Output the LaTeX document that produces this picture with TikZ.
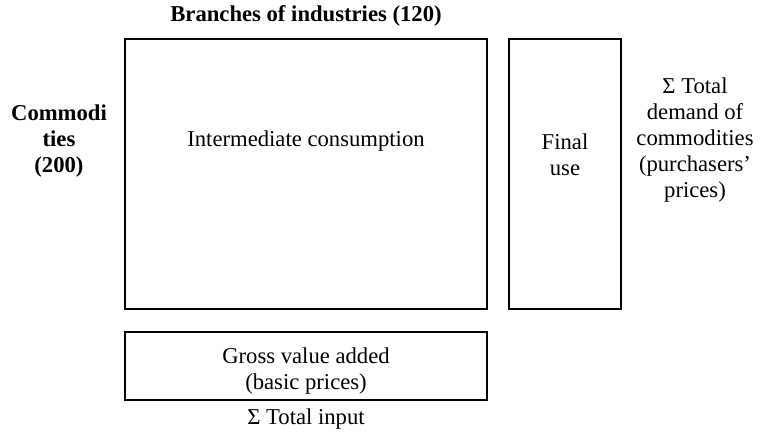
\documentclass[tikz,border=0pt]{standalone}
\usepackage{fontspec}
\setmainfont{Liberation Serif}
\usepackage{tikz}
\usetikzlibrary{positioning}
\tikzset{%
	block/.style = {draw, rectangle, line width=1.3pt, inner sep=0pt},
	label/.style = {align=center, inner sep=0pt, font=\fontsize{17}{19.5}\selectfont},
	title/.style = {label, font=\fontsize{17}{19.5}\selectfont\bfseries},
}

\begin{document}
\begin{tikzpicture}[x=0.75pt,y=-0.75pt]
	\useasboundingbox (0,0) rectangle (760,439);
	% boxes
	\node[block, minimum width=271.5pt, minimum height=202.5pt] (ic) at (306,174) {};
	\node[block, minimum width=84pt, minimum height=202.5pt] (fu) at (565,174) {};
	\node[block, minimum width=272pt, minimum height=51pt] (gva) at (306,366) {};
	% texts
	\node[label] (ictext) at (306,141) {Intermediate consumption};
	\node[label] (futext) at (565,155) {Final\\use};
	\node[label] (gvatext) at (306,371) {Gross value added\\(basic prices)};
	\node[title] (br) at (306,16) {Branches of industries (120)};
	\node[title] (co) at (59,141) {Commodi\\ties\\(200)};
	\node[label] (td) at (695,140) {Σ Total\\demand of\\commodities\\(purchasers'\\prices)};
	\node[label] (ti) at (306,419) {Σ Total input};
\end{tikzpicture}
\end{document}
